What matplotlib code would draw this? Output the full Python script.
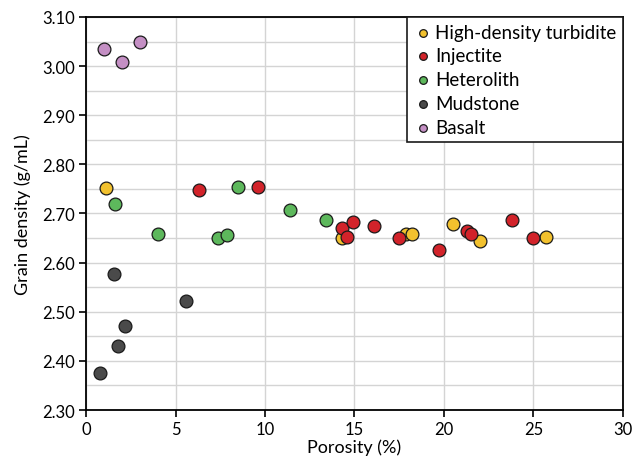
import matplotlib
matplotlib.use("Agg")
import matplotlib.pyplot as plt
from matplotlib.ticker import MultipleLocator

plt.rcParams['font.family'] = ['Lato', 'DejaVu Sans']

# porosity (%) / grain density (g/mL) per facies
turbidite_x = [1.1, 14.3, 17.9, 18.2, 20.5, 22.0, 25.7]
turbidite_y = [2.752, 2.651, 2.659, 2.658, 2.679, 2.644, 2.652]

injectite_x = [6.3, 9.6, 14.3, 14.9, 14.6, 16.1, 17.5, 19.7, 21.3, 21.5, 23.8, 25.0]
injectite_y = [2.748, 2.754, 2.670, 2.682, 2.652, 2.675, 2.651, 2.625, 2.665, 2.658, 2.687, 2.651]

heterolith_x = [1.6, 4.0, 7.4, 7.9, 8.5, 11.4, 13.4]
heterolith_y = [2.719, 2.658, 2.651, 2.656, 2.753, 2.708, 2.686]

mudstone_x = [1.55, 5.6, 2.2, 1.8, 0.8]
mudstone_y = [2.577, 2.522, 2.470, 2.430, 2.375]

basalt_x = [1.0, 2.0, 3.0]
basalt_y = [3.035, 3.008, 3.048]

series = [
    ("High-density turbidite", turbidite_x, turbidite_y, "#f2c12e"),
    ("Injectite", injectite_x, injectite_y, "#d2232a"),
    ("Heterolith", heterolith_x, heterolith_y, "#5db85c"),
    ("Mudstone", mudstone_x, mudstone_y, "#4a4a4a"),
    ("Basalt", basalt_x, basalt_y, "#c48fc4"),
]

fig = plt.figure(figsize=(6.33, 4.60), dpi=100)
ax = fig.add_axes([0.136, 0.1065, 0.848, 0.8545])

for label, xs, ys, color in series:
    ax.scatter(xs, ys, s=85, c=color, edgecolors="#1a1a1a", linewidths=0.9,
               label=label, zorder=3)

ax.set_xlim(0, 30)
ax.set_ylim(2.30, 3.10)
ax.xaxis.set_major_locator(MultipleLocator(5))
ax.yaxis.set_major_locator(MultipleLocator(0.1))
ax.yaxis.set_minor_locator(MultipleLocator(0.05))
ax.yaxis.set_major_formatter(plt.FormatStrFormatter("%.2f"))
ax.grid(True, which="major", color="#d4d4d4", linewidth=1.0, zorder=0)
ax.grid(True, which="minor", axis="y", color="#d4d4d4", linewidth=1.0, zorder=0)
ax.set_axisbelow(True)
ax.tick_params(which="minor", length=0)
ax.tick_params(which="major", labelsize=12, length=5, width=1.2, color="black", pad=3)
for sp in ax.spines.values():
    sp.set_linewidth(1.3)

ax.set_xlabel("Porosity (%)", fontsize=13, labelpad=1)
ax.set_ylabel("Grain density (g/mL)", fontsize=13, labelpad=8)

leg = ax.legend(loc="upper right", borderaxespad=0, fontsize=13.5, markerscale=0.6,
                handletextpad=0.15, handlelength=1.0, borderpad=0.35,
                labelspacing=0.36, fancybox=False, framealpha=1)
leg.get_frame().set_edgecolor("#1a1a1a")
leg.get_frame().set_linewidth(1.2)

plt.savefig("out.png")
